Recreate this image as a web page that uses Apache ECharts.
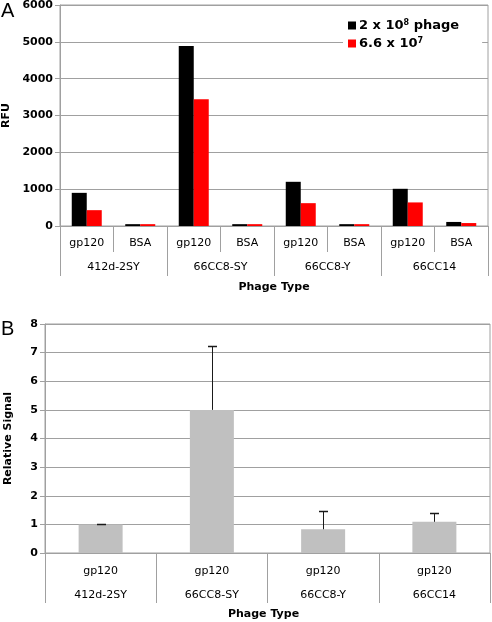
<!DOCTYPE html>
<html>
<head>
<meta charset="utf-8">
<script src="https://cdn.jsdelivr.net/npm/echarts@6/dist/echarts.min.js"></script>
<style>
html,body{margin:0;padding:0;background:#fff;}
#c{width:492px;height:622px;}
</style>
</head>
<body>
<div id="c"></div>
<script>
// ---- Panel A data ----
const subCategoriesA = ['gp120','BSA','gp120','BSA','gp120','BSA','gp120','BSA'];
const groupsA = ['412d-2SY','66CC8-SY','66CC8-Y','66CC14'];
const seriesNamesA = ['2 x 10^8 phage', '6.6 x 10^7'];
const legendLabelsA = ['2 x 10{sup|8} phage', '6.6 x 10{sup|7}'];
const phage2e8 = [900, 50, 4890, 50, 1200, 50, 1010, 110];
const phage66e7 = [430, 50, 3440, 50, 620, 50, 640, 80];
const yTicksA = [0, 1000, 2000, 3000, 4000, 5000, 6000];

// ---- Panel B data ----
const subCategoriesB = ['gp120','gp120','gp120','gp120'];
const groupsB = ['412d-2SY','66CC8-SY','66CC8-Y','66CC14'];
const relSignal = [1.0, 5.0, 0.83, 1.09];
const relSignalErr = [0.02, 2.22, 0.64, 0.32];
const yTicksB = [0, 1, 2, 3, 4, 5, 6, 7, 8];

const gray = '#a0a0a0';
const font = 'DejaVu Sans';

const chart = echarts.init(document.getElementById('c'), null, {renderer: 'canvas'});

const yLabel = {fontFamily: font, fontWeight: 'bold', fontSize: 11, color: '#000', margin: 7,
  formatter: function (v) { return String(v); }};
const xLabel = {fontFamily: font, fontSize: 11, color: '#000', interval: 0};
const nameStyle = {fontFamily: font, fontWeight: 'bold', fontSize: 11, color: '#000'};

const option = {
  animation: false,
  backgroundColor: '#fff',
  graphic: [
    {type: 'text', left: 1, top: 1, style: {text: 'A', font: '20px "Liberation Sans"', fill: '#000'}},
    {type: 'text', left: 1, top: 319, style: {text: 'B', font: '20px "Liberation Sans"', fill: '#000'}}
  ],
  legend: {
    data: seriesNamesA,
    orient: 'vertical',
    left: 343,
    top: 15,
    itemWidth: 8,
    itemHeight: 8,
    itemGap: 5,
    padding: [4, 23, 4, 5],
    backgroundColor: '#fff',
    icon: 'rect',
    formatter: function (name) { return legendLabelsA[seriesNamesA.indexOf(name)]; },
    textStyle: {
      fontFamily: font, fontWeight: 'bold', fontSize: 13, color: '#000', padding: [0, 0, 0, -2],
      rich: {sup: {fontFamily: font, fontWeight: 'bold', fontSize: 8, color: '#000', verticalAlign: 'top', lineHeight: 10}}
    },
    z: 10
  },
  grid: [
    {left: 60, right: 4, top: 5, bottom: 396, show: true, borderColor: gray, borderWidth: 1,
      backgroundColor: 'transparent', containLabel: false, outerBoundsMode: 'none'},
    {left: 45, right: 2, top: 324, bottom: 69, show: true, borderColor: gray, borderWidth: 1,
      backgroundColor: 'transparent', containLabel: false, outerBoundsMode: 'none'}
  ],
  xAxis: [
    {type: 'category', gridIndex: 0, data: subCategoriesA, position: 'bottom',
      axisLine: {show: true, lineStyle: {color: gray}},
      axisTick: {show: true, interval: 0, length: 26, lineStyle: {color: gray, width: 1}},
      axisLabel: Object.assign({margin: 12}, xLabel)},
    {type: 'category', gridIndex: 0, data: groupsA, position: 'bottom',
      axisLine: {show: false},
      axisTick: {show: true, interval: 0, length: 50, lineStyle: {color: gray, width: 1}},
      axisLabel: Object.assign({margin: 36}, xLabel),
      name: 'Phage Type', nameLocation: 'middle', nameGap: 56, nameTextStyle: nameStyle},
    {type: 'category', gridIndex: 1, data: subCategoriesB, position: 'bottom',
      axisLine: {show: true, lineStyle: {color: gray}},
      axisTick: {show: true, interval: 0, length: 50, lineStyle: {color: gray, width: 1}},
      axisLabel: Object.assign({margin: 13}, xLabel)},
    {type: 'category', gridIndex: 1, data: groupsB, position: 'bottom',
      axisLine: {show: false}, axisTick: {show: false},
      axisLabel: Object.assign({margin: 37}, xLabel),
      name: 'Phage Type', nameLocation: 'middle', nameGap: 56,
      nameTextStyle: Object.assign({padding: [0, 8, 0, 0]}, nameStyle)}
  ],
  yAxis: [
    {type: 'value', gridIndex: 0, min: yTicksA[0], max: yTicksA[yTicksA.length - 1], interval: 1000,
      axisLine: {show: true, lineStyle: {color: gray}}, axisTick: {show: true, length: 5, lineStyle: {color: gray}},
      splitLine: {lineStyle: {color: gray}}, axisLabel: yLabel,
      name: 'RFU', nameLocation: 'middle', nameGap: 48, nameRotate: 90, nameTextStyle: nameStyle},
    {type: 'value', gridIndex: 1, min: yTicksB[0], max: yTicksB[yTicksB.length - 1], interval: 1,
      axisLine: {show: true, lineStyle: {color: gray}}, axisTick: {show: true, length: 5, lineStyle: {color: gray}},
      splitLine: {lineStyle: {color: gray}}, axisLabel: yLabel,
      name: 'Relative Signal', nameLocation: 'middle', nameGap: 31, nameRotate: 90, nameTextStyle: nameStyle}
  ],
  series: [
    {name: seriesNamesA[0], type: 'bar', xAxisIndex: 0, yAxisIndex: 0, data: phage2e8,
      barWidth: 15, barGap: '0%', itemStyle: {color: '#000000'}},
    {name: seriesNamesA[1], type: 'bar', xAxisIndex: 0, yAxisIndex: 0, data: phage66e7,
      barWidth: 15, barGap: '0%', itemStyle: {color: '#ff0000'}},
    {name: 'Relative Signal', type: 'bar', xAxisIndex: 2, yAxisIndex: 1, data: relSignal,
      barWidth: 44, itemStyle: {color: '#c0c0c0'}},
    {name: 'err', type: 'custom', xAxisIndex: 2, yAxisIndex: 1, z: 5,
      data: relSignal.map((v, i) => [i, v, relSignalErr[i]]),
      encode: {x: 0, y: 1},
      renderItem: function (params, api) {
        const i = api.value(0), v = api.value(1), e = api.value(2);
        const base = api.coord([i, v]);
        const top = api.coord([i, v + e]);
        const x = Math.round(base[0]) + 0.5;
        const ty = Math.round(top[1]) + 0.5;
        return {type: 'group', children: [
          {type: 'line', shape: {x1: x, y1: base[1], x2: x, y2: ty}, style: {stroke: '#1a1a1a', lineWidth: 1}},
          {type: 'line', shape: {x1: x - 4.5, y1: ty, x2: x + 4.5, y2: ty}, style: {stroke: '#1a1a1a', lineWidth: 1.5}}
        ]};
      }}
  ]
};
chart.setOption(option);
</script>
</body>
</html>
